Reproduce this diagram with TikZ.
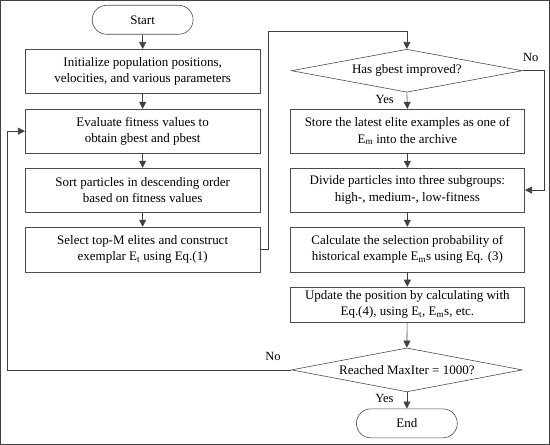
\documentclass[tikz,border=0pt]{standalone}
\usepackage{fontspec}
\setmainfont{Liberation Serif}
\usetikzlibrary{arrows.meta,shapes.geometric}
\begin{document}
\begin{tikzpicture}[x=1pt,y=-1pt,
  font=\fontsize{13}{16.5}\selectfont,
  every path/.style={draw=black!75, line width=0.6pt},
  arr/.style={-{Triangle[length=7pt,width=7pt]}, draw=black!75},
  procbox/.style={draw=black!70, line width=0.6pt, rectangle, align=center, inner sep=0pt, minimum width=235pt, minimum height=44pt},
  decbox/.style={draw=black!70, line width=0.6pt, diamond, aspect=5.37, align=center, inner sep=0pt, minimum width=231pt, minimum height=43pt},
  termbox/.style={draw=black!70, line width=0.6pt, rectangle, rounded corners=14.5pt, minimum width=101pt, minimum height=29pt, inner sep=0pt},
  lbl/.style={font=\fontsize{12.5}{15}\selectfont, inner sep=1pt}]
\useasboundingbox (0,0) rectangle (550,444);
\node[termbox] (start) at (142.5,19.5) {Start};
\node[procbox] (b1) at (142.5,71) {Initialize population positions,\\velocities, and various parameters};
\node[procbox] (b2) at (142.5,131) {Evaluate fitness values to\\obtain gbest and pbest};
\node[procbox] (b3) at (142.5,190) {Sort particles in descending order\\based on fitness values};
\node[procbox, minimum height=45pt] (b4) at (142.5,249.5) {Select top-M elites and construct\\exemplar E\textsubscript{t} using Eq.(1)};
\node[decbox] (d1) at (407,70.5) {Has gbest improved?};
\node[procbox] (b5) at (407.5,131) {Store the latest elite examples as one of\\E\textsubscript{m} into the archive};
\node[procbox] (b6) at (407.5,190) {Divide particles into three subgroups:\\high-, medium-, low-fitness};
\node[procbox, minimum height=45pt] (b7) at (407.5,249.5) {Calculate the selection probability of\\historical example E\textsubscript{m}s using Eq. (3)};
\node[procbox, minimum height=35pt] (b8) at (407.5,304.5) {Update the position by calculating with\\Eq.(4), using E\textsubscript{t}, E\textsubscript{m}s, etc.};
\node[decbox, minimum height=44pt] (d2) at (407,370) {Reached MaxIter = 1000?};
\node[termbox] (end) at (407,423.5) {End};
\coordinate (c1) at (268,249.5);
\coordinate (c2) at (268,31);
\coordinate (c3) at (407,31);
\coordinate (c4) at (545,70.5);
\coordinate (c5) at (545,190);
\coordinate (c6) at (7,370);
\coordinate (c7) at (7,131);
\draw[arr] (start) -- (b1);
\draw[arr] (b1) -- (b2);
\draw[arr] (b2) -- (b3);
\draw[arr] (b3) -- (b4);
\draw[arr] (b4.east) -- (c1) -- (c2) -- (c3) -- (d1.north);
\draw[arr] (d1.south) -- node[lbl, pos=0.4, left=12pt] {Yes} (b5.north);
\draw[arr] (d1.east) -- (c4) -- (c5) -- (b6.east);
\node[lbl] (no1) at (531,57) {No};
\draw[arr] (b5) -- (b6);
\draw[arr] (b6) -- (b7);
\draw[arr] (b7) -- (b8);
\draw[arr] (b8) -- (d2.north);
\draw[arr] (d2.south) -- node[lbl, pos=0.4, left=12pt] {Yes} (end.north);
\draw[arr] (d2.west) -- (c6) -- (c7) -- (b2.west);
\node[lbl] (no2) at (273,357) {No};
\end{tikzpicture}
\end{document}
